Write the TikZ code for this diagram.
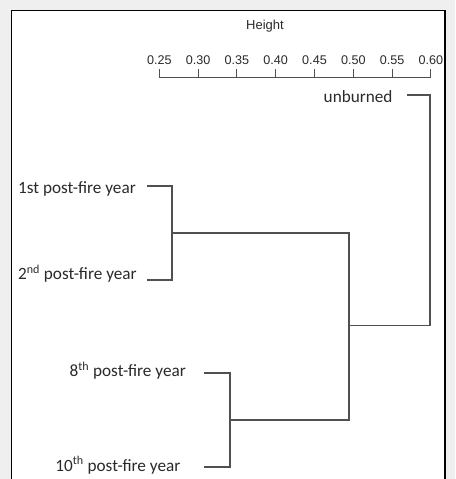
\documentclass[tikz,border=0pt]{standalone}
\usepackage{fontspec}
\newfontfamily\arialf{Liberation Sans}
\newfontfamily\calibrif{Carlito}
\definecolor{bgc}{HTML}{EFEFEF}
\definecolor{linec}{HTML}{505050}
\definecolor{txtc}{HTML}{2A2A2A}
\begin{document}
\begin{tikzpicture}[x=1pt,y=-1pt,
  dend/.style={draw=linec,line width=1.2pt},
  axisl/.style={draw=linec,line width=1pt},
  ticklab/.style={font=\arialf\fontsize{12.6}{14}\selectfont,text=txtc,anchor=base,inner sep=0pt},
  leaflab/.style={font=\calibrif\fontsize{17.2}{19}\selectfont,text=txtc,inner sep=0pt},
  ]
\useasboundingbox (0,0) rectangle (455,479);
\fill[bgc] (0,0) rectangle (455,479);
\begin{scope}
\clip (0,0) rectangle (455,479);
\draw[fill=white,draw=black,line width=1.3pt] (11.5,10.5) rectangle (445,500);
\end{scope}
% axis title
\node[font=\arialf\fontsize{13}{15}\selectfont,text=txtc,anchor=base,inner sep=0pt] (htitle) at (265,29) {Height};
% axis
\foreach \i/\lab in {0/0.25,1/0.30,2/0.35,3/0.40,4/0.45,5/0.50,6/0.55,7/0.60}{
  \pgfmathsetmacro{\xx}{159.3+38.8*\i}
  \coordinate (t\i) at (\xx,77.5);
  \draw[axisl] (\xx,69) -- (t\i);
  \node[ticklab] (tl\i) at (\xx,64.3) {\lab};
}
\draw[axisl] (t0) -- (t7);
% leaf labels
\node[leaflab,anchor=base east] (unb) at (392.7,102.3) {unburned};
\node[leaflab,anchor=base west] (y1) at (18,193) {1st post-fire year};
\node[leaflab,anchor=base west] (y2) at (18,279.5) {2\textsuperscript{nd} post-fire year};
\node[leaflab,anchor=base east] (y8) at (186,376.7) {8\textsuperscript{th} post-fire year};
\node[leaflab,anchor=base east] (y10) at (180.5,471) {10\textsuperscript{th} post-fire year};
% leaf ends
\coordinate (e0) at (407,95);
\coordinate (e1) at (147,186);
\coordinate (e2) at (147,280);
\coordinate (e8) at (204,373);
\coordinate (e10) at (204,467);
% joints
\coordinate (j12a) at (172,186);
\coordinate (j12b) at (172,280);
\coordinate (j12m) at (172,233);
\coordinate (j810a) at (230,373);
\coordinate (j810b) at (230,467);
\coordinate (j810m) at (230,420);
\coordinate (jba) at (349,233);
\coordinate (jbb) at (349,420);
\coordinate (jbm) at (349,325.5);
\coordinate (jra) at (430,95);
\coordinate (jrb) at (430,325.5);
\draw[dend] (e1) -- (j12a) -- (j12b) -- (e2);
\draw[dend] (e8) -- (j810a) -- (j810b) -- (e10);
\draw[dend] (j12m) -- (jba) -- (jbb) -- (j810m);
\draw[dend] (e0) -- (jra) -- (jrb) -- (jbm);
\end{tikzpicture}
\end{document}
